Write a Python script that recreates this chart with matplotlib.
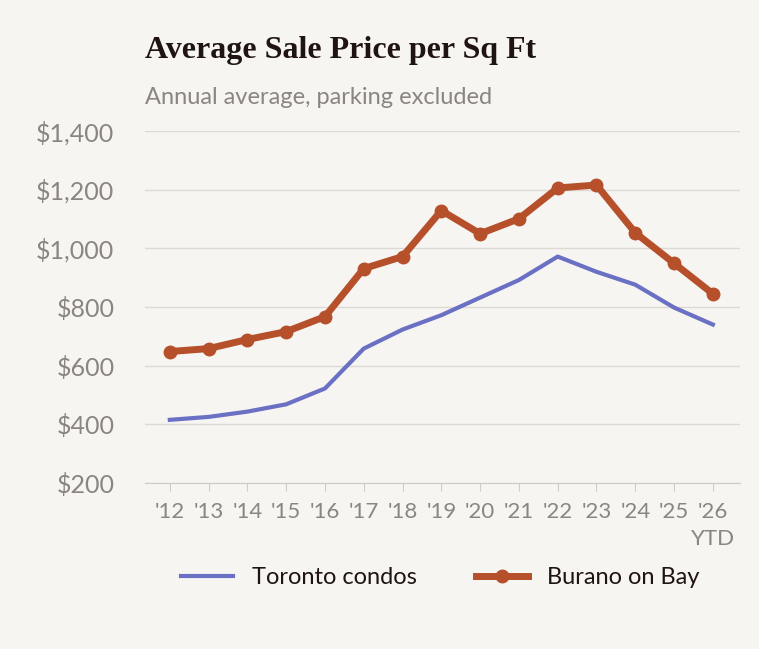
import matplotlib.pyplot as plt

years = ["'12", "'13", "'14", "'15", "'16", "'17", "'18", "'19", "'20", "'21", "'22", "'23", "'24", "'25", "'26\nYTD"]
toronto = [415, 425, 443, 468, 522, 658, 723, 772, 832, 892, 972, 920, 876, 798, 740]
burano = [648, 658, 689, 716, 767, 931, 972, 1129, 1050, 1101, 1206, 1216, 1053, 949, 845]
yticks = [200, 400, 600, 800, 1000, 1200, 1400]

bg = '#f7f5f2'
fig = plt.figure(figsize=(7.59, 6.49), dpi=100, facecolor=bg)
ax = fig.add_axes([0.191, 0.256, 0.784, 0.542], facecolor=bg)

x = list(range(len(years)))
ax.plot(x, toronto, color='#6a70c4', lw=3, label='Toronto condos')
ax.plot(x, burano, color='#b5502b', lw=5, marker='o', ms=9, label='Burano on Bay')

ax.set_ylim(200, 1400)
ax.set_xlim(-0.64, 14.7)
ax.set_yticks(yticks)
ax.set_yticklabels([f'${v:,}' for v in yticks], family='Lato')
ax.set_xticks(x)
ax.set_xticklabels(years, family='Lato')
ax.grid(axis='y', color='#dddad5', lw=1)
ax.set_axisbelow(True)
for s in ['top', 'right', 'left']:
    ax.spines[s].set_visible(False)
ax.spines['bottom'].set_color('#cfcbc5')
ax.tick_params(axis='y', length=0, labelsize=18, colors='#8a8580', pad=22)
ax.tick_params(axis='x', length=6, color='#cfcbc5', labelsize=16, colors='#8a8580', pad=8)
for lbl in ax.get_xticklabels()[-1:]:
    lbl.set_linespacing(1.4)

fig.text(0.191, 0.91, 'Average Sale Price per Sq Ft', fontsize=23, fontweight='bold',
         family='Liberation Serif', color='#1f1412')
fig.text(0.191, 0.84, 'Annual average, parking excluded', fontsize=17, color='#8a8580', family='Lato')

fig.legend(loc='center', bbox_to_anchor=(0.58, 0.11), ncol=2, frameon=False,
           prop={'family': 'Lato', 'size': 17}, handlelength=2.2, columnspacing=2.5,
           labelcolor='#1f1412')
fig.savefig('out.png', facecolor=bg)
